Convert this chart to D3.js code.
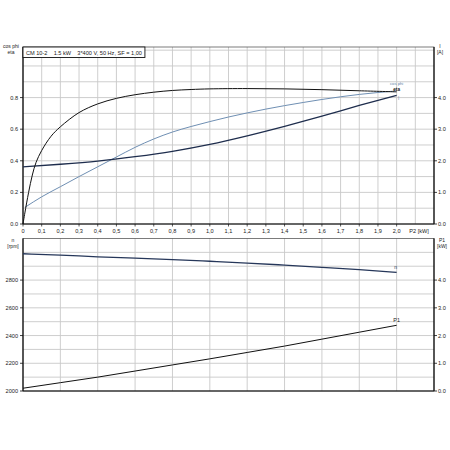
<!DOCTYPE html>
<html><head><meta charset="utf-8">
<script src="https://cdn.jsdelivr.net/npm/d3@7"></script>
<style>
html,body{margin:0;padding:0;background:#fff;}
text{font-family:"Liberation Sans",Arial,sans-serif;fill:#222;}
</style></head>
<body><svg id="c" width="450" height="450"></svg>
<script>
// ---- data ----
const legendText = "CM 10-2    1.5 kW    3*400 V, 50 Hz, SF = 1,00";
const xTicks = [0,0.1,0.2,0.3,0.4,0.5,0.6,0.7,0.8,0.9,1.0,1.1,1.2,1.3,1.4,1.5,1.6,1.7,1.8,1.9,2.0];
const leftTopTicks = [0,0.2,0.4,0.6,0.8];
const rightTopTicks = [0,1,2,3,4];
const leftBotTicks = [2000,2200,2400,2600,2800];
const rightBotTicks = [0,1,2,3,4];

const etaX = [0,0.01,0.03,0.05,0.07,0.1,0.15,0.2,0.3,0.4,0.5,0.6,0.7,0.8,0.9,1.0,1.2,1.4,1.6,1.8,2.0];
const etaY = [0,0.07,0.2,0.31,0.39,0.465,0.555,0.615,0.705,0.76,0.795,0.818,0.834,0.845,0.851,0.855,0.857,0.855,0.85,0.843,0.836];

const cosX = [0.01,0.1,0.2,0.3,0.4,0.5,0.6,0.7,0.8,0.9,1.0,1.1,1.2,1.3,1.4,1.5,1.6,1.7,1.8,1.9,2.0];
const cosY = [0.105,0.172,0.236,0.30,0.362,0.424,0.485,0.538,0.582,0.617,0.648,0.677,0.703,0.727,0.749,0.769,0.788,0.805,0.82,0.832,0.842];

const iX = [0,0.2,0.4,0.6,0.8,1.0,1.2,1.4,1.6,1.8,2.0];
const iY = [1.81,1.89,1.99,2.13,2.3,2.52,2.79,3.09,3.41,3.75,4.07];

const nX = [0,0.2,0.4,0.6,0.8,1.0,1.2,1.4,1.6,1.8,2.0];
const nY = [2990,2980,2968,2958,2948,2936,2923,2908,2892,2875,2855];

const p1X = [0,0.2,0.4,0.6,0.8,1.0,1.2,1.4,1.6,1.8,2.0];
const p1Y = [0.1,0.3,0.5,0.72,0.94,1.16,1.39,1.62,1.87,2.12,2.37];

// ---- layout ----
const svg = d3.select("#c");
svg.append("rect").attr("width",450).attr("height",450).attr("fill","#fff");
const L=23, R=434, T1=47, B1=224, T2=238.5, B2=391;
const x = d3.scaleLinear().domain([0,2.2]).range([L,R]);
const yTop = d3.scaleLinear().domain([0,1.12]).range([B1,T1]);
const yI = d3.scaleLinear().domain([0,5.6]).range([B1,T1]);
const yN = d3.scaleLinear().domain([2000,3100]).range([B2,T2]);
const yP = d3.scaleLinear().domain([0,5.5]).range([B2,T2]);
const fs = 5.6;
const grid = "#c8c8c8";

// ---- top panel grid ----
const gTop = svg.append("g");
gTop.selectAll(".vg").data(d3.range(1,22).map(i=>i/10)).join("line")
  .attr("x1",d=>x(d)).attr("x2",d=>x(d)).attr("y1",T1).attr("y2",B1)
  .attr("stroke",grid).attr("stroke-width",0.9);
gTop.selectAll(".hg").data(d3.range(1,12).map(i=>i/10)).join("line")
  .attr("x1",L).attr("x2",R).attr("y1",d=>yTop(d)).attr("y2",d=>yTop(d))
  .attr("stroke",grid).attr("stroke-width",0.9);

// ---- bottom panel grid ----
const gBot = svg.append("g");
gBot.selectAll(".vg").data(d3.range(1,11).map(i=>i/5)).join("line")
  .attr("x1",d=>x(d)).attr("x2",d=>x(d)).attr("y1",T2).attr("y2",B2)
  .attr("stroke",grid).attr("stroke-width",0.9);
gBot.selectAll(".hg").data(d3.range(21,31).map(i=>i*100)).join("line")
  .attr("x1",L).attr("x2",R).attr("y1",d=>yN(d)).attr("y2",d=>yN(d))
  .attr("stroke",grid).attr("stroke-width",0.9);

// ---- frames ----
[[T1,B1],[T2,B2]].forEach(([t,b])=>{
  svg.append("rect").attr("x",L).attr("y",t).attr("width",R-L).attr("height",b-t)
    .attr("fill","none").attr("stroke","#444").attr("stroke-width",0.7);
  svg.append("line").attr("x1",L).attr("x2",L).attr("y1",t).attr("y2",b).attr("stroke","#111").attr("stroke-width",1.2);
  svg.append("line").attr("x1",R).attr("x2",R).attr("y1",t).attr("y2",b).attr("stroke","#111").attr("stroke-width",1.2);
  svg.append("line").attr("x1",L).attr("x2",R).attr("y1",b).attr("y2",b).attr("stroke","#111").attr("stroke-width",1.2);
});

// ---- axes ----
const fmtDot = d=>d3.format(".1f")(d);
const fmtComma = d=> d===0 ? "0" : d3.format(".1f")(d).replace(".",",");
function leftAxis(scale, ticks, fmt){
  const g = svg.append("g");
  g.selectAll("line").data(ticks).join("line")
    .attr("x1",L-3).attr("x2",L).attr("y1",d=>scale(d)).attr("y2",d=>scale(d)).attr("stroke","#111").attr("stroke-width",0.8);
  g.selectAll("text").data(ticks).join("text")
    .attr("x",L-5).attr("y",d=>scale(d)+2).attr("text-anchor","end").attr("font-size",fs).text(fmt);
}
function rightAxis(scale, ticks, fmt){
  const g = svg.append("g");
  g.selectAll("line").data(ticks).join("line")
    .attr("x1",R).attr("x2",R+3).attr("y1",d=>scale(d)).attr("y2",d=>scale(d)).attr("stroke","#111").attr("stroke-width",0.8);
  g.selectAll("text").data(ticks).join("text")
    .attr("x",R+4).attr("y",d=>scale(d)+2).attr("text-anchor","start").attr("font-size",fs).text(fmt);
}
leftAxis(yTop, leftTopTicks, fmtDot);
rightAxis(yI, rightTopTicks, fmtDot);
leftAxis(yN, leftBotTicks, d=>String(d));
rightAxis(yP, rightBotTicks, fmtDot);

// x ticks
const gx = svg.append("g");
gx.selectAll("line").data(xTicks).join("line")
  .attr("x1",d=>x(d)).attr("x2",d=>x(d)).attr("y1",B1).attr("y2",B1+2.5).attr("stroke","#111").attr("stroke-width",0.7);
gx.selectAll("text").data(xTicks).join("text")
  .attr("x",d=>x(d)).attr("y",B1+8.5).attr("text-anchor","middle").attr("font-size",fs).text(fmtComma);
svg.append("text").attr("x",x(2.12)).attr("y",B1+8.5).attr("text-anchor","middle").attr("font-size",fs).text("P2 [kW]");

// axis titles
svg.append("text").attr("x",11).attr("y",T1+1).attr("text-anchor","middle").attr("font-size",fs-0.6).text("cos phi");
svg.append("text").attr("x",11).attr("y",T1+7).attr("text-anchor","middle").attr("font-size",fs-0.6).text("eta");
svg.append("text").attr("x",R+6).attr("y",T1+1).attr("text-anchor","middle").attr("font-size",fs-0.6).text("I");
svg.append("text").attr("x",R+6).attr("y",T1+7).attr("text-anchor","middle").attr("font-size",fs-0.6).text("[A]");
svg.append("text").attr("x",13).attr("y",T2+3).attr("text-anchor","middle").attr("font-size",fs-0.6).text("n");
svg.append("text").attr("x",13).attr("y",T2+9).attr("text-anchor","middle").attr("font-size",fs-0.6).text("[rpm]");
svg.append("text").attr("x",R+8).attr("y",T2+3).attr("text-anchor","middle").attr("font-size",fs-0.6).text("P1");
svg.append("text").attr("x",R+8).attr("y",T2+9).attr("text-anchor","middle").attr("font-size",fs-0.6).text("[kW]");

// legend box
const lg = svg.append("g");
const lt = lg.append("text").attr("x",L+3).attr("y",T1+7.5).attr("font-size",fs)
  .attr("xml:space","preserve").style("white-space","pre").text(legendText);
const tw = lt.node().getComputedTextLength();
lg.insert("rect","text").attr("x",L).attr("y",T1).attr("width",tw+6).attr("height",10.5)
  .attr("fill","#fff").attr("stroke","#111").attr("stroke-width",0.9);

// ---- curves ----
const zip = (xs,ys)=>xs.map((v,i)=>[v,ys[i]]);
function curve(xs,ys,ysc,color,w,c){
  const line = d3.line().x(d=>x(d[0])).y(d=>ysc(d[1])).curve(c||d3.curveMonotoneX);
  svg.append("path").attr("d",line(zip(xs,ys))).attr("fill","none").attr("stroke",color).attr("stroke-width",w);
}
curve(cosX,cosY,yTop,"#6f8fb3",1.0);
curve(iX,iY,yI,"#1e2d4d",1.3);
curve(etaX,etaY,yTop,"#111",1.0,d3.curveCatmullRom.alpha(0.5));
curve(nX,nY,yN,"#26375a",1.3);
curve(p1X,p1Y,yP,"#111",1.0);

// curve labels
svg.append("text").attr("x",x(2.0)).attr("y",yTop(cosY[cosY.length-1])-5.5).attr("text-anchor","middle").attr("font-size",4.2).style("fill","#5a7fa8").text("cos phi");
svg.append("text").attr("x",x(2.0)).attr("y",yTop(etaY[etaY.length-1])-0.5).attr("text-anchor","middle").attr("font-size",4.6).style("fill","#111").attr("font-weight","bold").text("eta");
svg.append("text").attr("x",x(2.0)+2).attr("y",yI(iY[iY.length-1])+5).attr("text-anchor","middle").attr("font-size",4.6).style("fill","#5a7fa8").text("I");
svg.append("text").attr("x",x(2.0)-1).attr("y",yN(nY[nY.length-1])-3).attr("text-anchor","middle").attr("font-size",fs-0.6).style("fill","#26375a").text("n");
svg.append("text").attr("x",x(2.0)).attr("y",yP(p1Y[p1Y.length-1])-3).attr("text-anchor","middle").attr("font-size",fs-0.2).text("P1");
</script></body></html>
